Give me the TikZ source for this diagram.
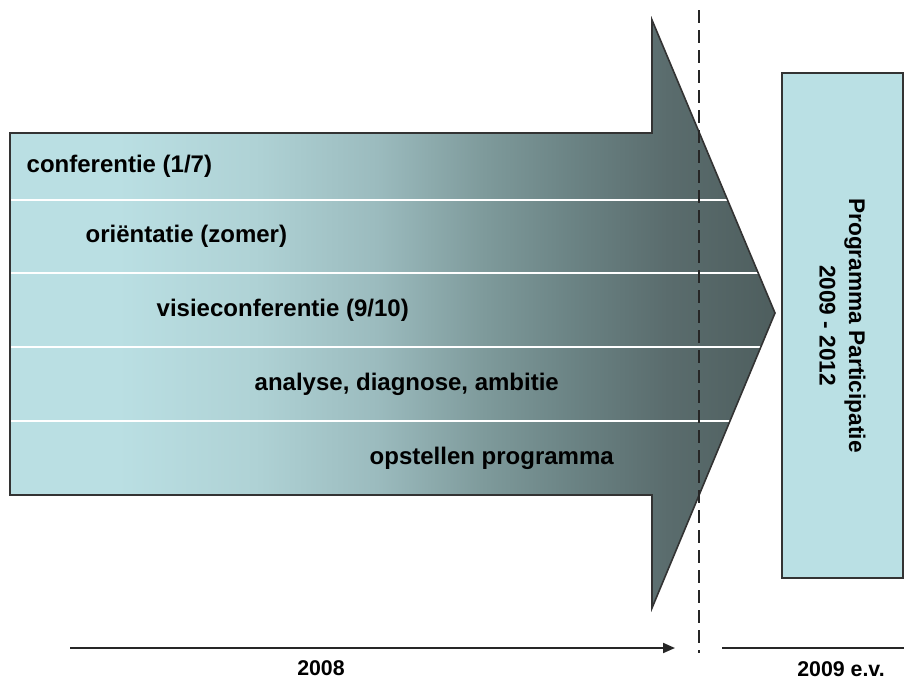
\documentclass[tikz,border=0pt]{standalone}
\usepackage{fontspec}
\setmainfont{Liberation Sans}
\usetikzlibrary{arrows.meta}
\definecolor{tealbox}{HTML}{BAE0E4}
\definecolor{teal0}{HTML}{BADFE3}
\definecolor{teal1}{HTML}{AFD2D5}
\definecolor{teal2}{HTML}{9BBBBE}
\definecolor{teal3}{HTML}{7E9A9B}
\definecolor{teal4}{HTML}{6A8283}
\definecolor{teal5}{HTML}{5A6C6D}
\definecolor{teal6}{HTML}{4E5E5E}
\pgfdeclarehorizontalshading{arrowshade}{100bp}{color(0bp)=(teal0); color(25bp)=(teal0); color(32bp)=(teal0); color(41bp)=(teal1); color(49bp)=(teal2); color(56bp)=(teal3); color(62bp)=(teal4); color(68bp)=(teal5); color(75bp)=(teal6); color(100bp)=(teal6)}
\newcommand{\phasearrow}{(10,133) -- (652,133) -- (652,20) -- (775,313) -- (652,608) -- (652,495) -- (10,495) -- cycle}
\tikzset{
  phase/.style={anchor=west, font=\fontsize{18}{22}\selectfont\bfseries},
  yearlabel/.style={font=\fontsize{16}{19}\selectfont\bfseries},
  timeline/.style={line width=1.5pt, black!85}
}
\begin{document}
\begin{tikzpicture}[x=0.75pt,y=-0.75pt]
			\useasboundingbox (0,0) rectangle (904,679);
			\path[shading=arrowshade] \phasearrow;
			\begin{scope}
				\clip \phasearrow;
				\foreach \y in {200,273,347,421}
					\draw[white, line width=1.5pt] (10,\y) -- (780,\y);
			\end{scope}
			\draw[black!80, line width=1.2pt, line join=miter] \phasearrow;
			\node[phase] (conf) at (22,166.5) {conferentie (1/7)};
			\node[phase] (orient) at (81,236.5) {oriëntatie (zomer)};
			\node[phase] (visie) at (152,310) {visieconferentie (9/10)};
			\node[phase] (analyse) at (250,384) {analyse, diagnose, ambitie};
			\node[phase] (opst) at (365,458) {opstellen programma};
			\node[draw=black!80, line width=1.2pt, fill=tealbox, rotate=-90, minimum width=378.75pt, minimum height=90.75pt, align=center, inner sep=0pt, font=\fontsize{17}{22}\selectfont\bfseries] (prog) at (842.5,325.5) {Programma Participatie\\2009 - 2012};
			\coordinate (dtop) at (699,10);
			\coordinate (dbot) at (699,653);
			\draw[black!85, line width=1.8pt, dash pattern=on 9.75pt off 5.25pt] (dtop) -- (dbot);
			\coordinate (t1s) at (70,648);
			\coordinate (t1e) at (675,648);
			\coordinate (t2s) at (722,648);
			\coordinate (t2e) at (904,648);
			\draw[timeline, -{Triangle[length=9pt,width=7.5pt]}] (t1s) -- (t1e);
			\draw[timeline] (t2s) -- (t2e);
			\node[yearlabel] (y2008) at (321,668) {2008};
			\node[yearlabel] (y2009) at (841,669) {2009 e.v.};
		\end{tikzpicture}
\end{document}
